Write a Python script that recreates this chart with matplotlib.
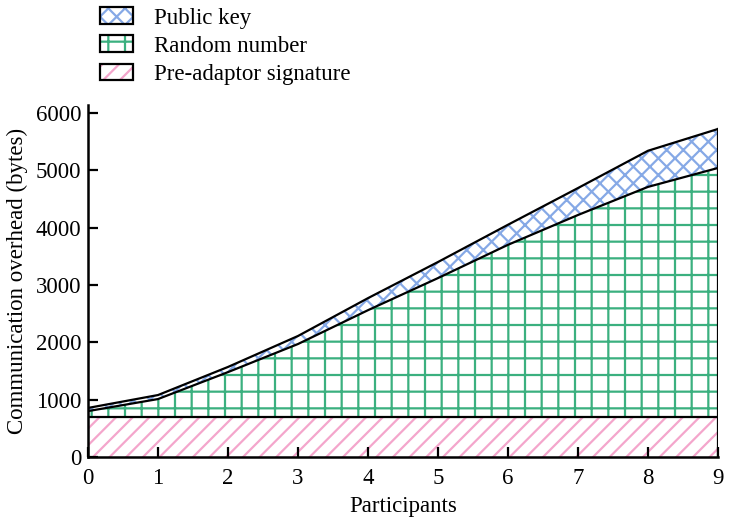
import matplotlib
matplotlib.use("Agg")
import matplotlib.pyplot as plt
from matplotlib.patches import Patch
from matplotlib.legend_handler import HandlerTuple
import numpy as np

participants = [0, 1, 2, 3, 4, 5, 6, 7, 8, 9]
pre_adaptor = [690, 690, 690, 690, 690, 690, 690, 690, 690, 690]
random_number = [110, 320, 790, 1280, 1870, 2430, 3010, 3530, 4020, 4350]
public_key = [55, 70, 90, 140, 210, 280, 350, 470, 630, 680]

series_names = ["Pre-adaptor signature", "Random number", "Public key"]
hatch_colors = ["#f4a6cc", "#3bb07f", "#86a9e6"]
hatches = ["//", "+", "xx"]

plt.rcParams['font.family'] = ['Liberation Serif', 'DejaVu Serif']
plt.rcParams['hatch.linewidth'] = 1.6

fig = plt.figure(figsize=(7.56, 5.17), dpi=100)
ax = fig.add_axes([0.1164, 0.1161, 0.8333, 0.681])

x = np.array(participants)
layers = [np.array(pre_adaptor), np.array(random_number), np.array(public_key)]
base = np.zeros_like(x, dtype=float)
tops = []
for layer, hc, h in zip(layers, hatch_colors, hatches):
    top = base + layer
    ax.fill_between(x, base, top, facecolor="white", edgecolor=hc, hatch=h,
                    linewidth=0, zorder=1)
    tops.append(top)
    base = top

for top in tops:
    ax.plot(x, top, color="black", lw=1.6, zorder=3)
ax.plot([x[-1], x[-1]], [0, tops[-1][-1]], color="black", lw=1.6, zorder=3)

ax.set_xlim(0, 9)
ax.set_ylim(0, 6140)
ax.set_xticks(participants)
ax.set_yticks([0, 1000, 2000, 3000, 4000, 5000, 6000])
for s in ["top", "right"]:
    ax.spines[s].set_visible(False)
for s in ["left", "bottom"]:
    ax.spines[s].set_linewidth(1.8)
fs = 16.5
ax.tick_params(direction="in", length=7, width=1.6, labelsize=fs)
ax.tick_params(axis="x", pad=8)
ax.tick_params(axis="y", pad=5)
ax.set_xlabel("Participants", fontsize=fs, labelpad=5)
ax.set_ylabel("Communication overhead (bytes)", fontsize=fs, labelpad=5.5)

handles = []
for hc, h in zip(hatch_colors, hatches):
    p1 = Patch(facecolor="white", edgecolor=hc, hatch=h, linewidth=0)
    p2 = Patch(facecolor="none", edgecolor="black", linewidth=1.6)
    handles.append((p1, p2))
order = [2, 1, 0]
leg = fig.legend([handles[i] for i in order], [series_names[i] for i in order],
                 handler_map={tuple: HandlerTuple(ndivide=1, pad=0)},
                 loc="upper left", bbox_to_anchor=(0.105, 1.026), frameon=False,
                 fontsize=fs, handlelength=1.45, handleheight=0.75,
                 handletextpad=0.9, labelspacing=0.3)

fig.savefig("out.png", dpi=100)
